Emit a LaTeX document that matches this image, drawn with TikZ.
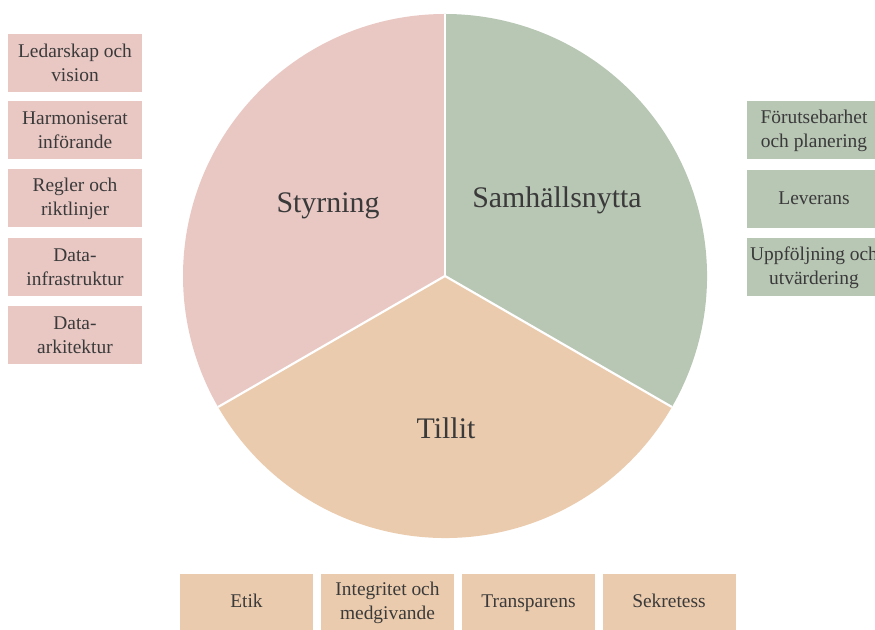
\documentclass[tikz,border=0pt]{standalone}
\usepackage{fontspec}
\setmainfont{Liberation Serif}
\definecolor{pinkfill}{HTML}{E9C8C4}
\definecolor{greenfill}{HTML}{B8C6B4}
\definecolor{peachfill}{HTML}{EBCBAD}
\definecolor{inkgray}{HTML}{3A3A3A}
\tikzset{
  itembox/.style={rectangle, minimum width=134bp, minimum height=58bp, inner sep=0pt,
    align=center, text=inkgray, font=\fontsize{19.5}{24}\selectfont},
  pinkbox/.style={itembox, fill=pinkfill},
  greenbox/.style={itembox, fill=greenfill},
  peachbox/.style={itembox, fill=peachfill, minimum width=133bp},
  bigtitle/.style={text=inkgray, font=\fontsize{30}{36}\selectfont},
  divider/.style={white, line width=2.2bp}
}
\begin{document}
\begin{tikzpicture}[x=1bp, y=1bp]
\useasboundingbox (0,0) rectangle (875,630);

% pie centre and spoke ends
\coordinate (c) at (445,354);
\path (c) ++(90:262) coordinate (ptop)
      (c) ++(210:262) coordinate (pleft)
      (c) ++(-30:262) coordinate (pright);

% three wedges
\fill[pinkfill]  (c) -- (ptop) arc[start angle=90, end angle=210, radius=262] -- cycle;
\fill[greenfill] (c) -- (pright) arc[start angle=-30, end angle=90, radius=262] -- cycle;
\fill[peachfill] (c) -- (pleft) arc[start angle=210, end angle=330, radius=262] -- cycle;

% white separators between the wedges
\draw[divider] (c) -- (ptop);
\draw[divider] (c) -- (pleft);
\draw[divider] (c) -- (pright);

% wedge titles
\node[bigtitle] (styrning) at (328,424) {Styrning};
\node[bigtitle] (samhall) at (557,430) {Samhällsnytta};
\node[bigtitle] (tillit) at (446,202) {Tillit};

% governance items
\node[pinkbox] (s1) at (75,567) {Ledarskap och\\vision};
\node[pinkbox] (s2) at (75,499.5) {Harmoniserat\\införande};
\node[pinkbox] (s3) at (75,431.5) {Regler och\\riktlinjer};
\node[pinkbox] (s4) at (75,363) {Data-\\infrastruktur};
\node[pinkbox] (s5) at (75,294.5) {Data-\\arkitektur};

% societal benefit items
\node[greenbox] (n1) at (814,499.5) {Förutsebarhet\\och planering};
\node[greenbox] (n2) at (814,430.5) {\strut Leverans};
\node[greenbox] (n3) at (814,362.5) {Uppföljning och\\utvärdering};

% trust items
\node[peachbox] (t1) at (246.5,27) {\strut Etik};
\node[peachbox] (t2) at (387.5,27) {Integritet och\\medgivande};
\node[peachbox] (t3) at (528.5,27) {\strut Transparens};
\node[peachbox] (t4) at (669,27) {\strut Sekretess};
\end{tikzpicture}
\end{document}
